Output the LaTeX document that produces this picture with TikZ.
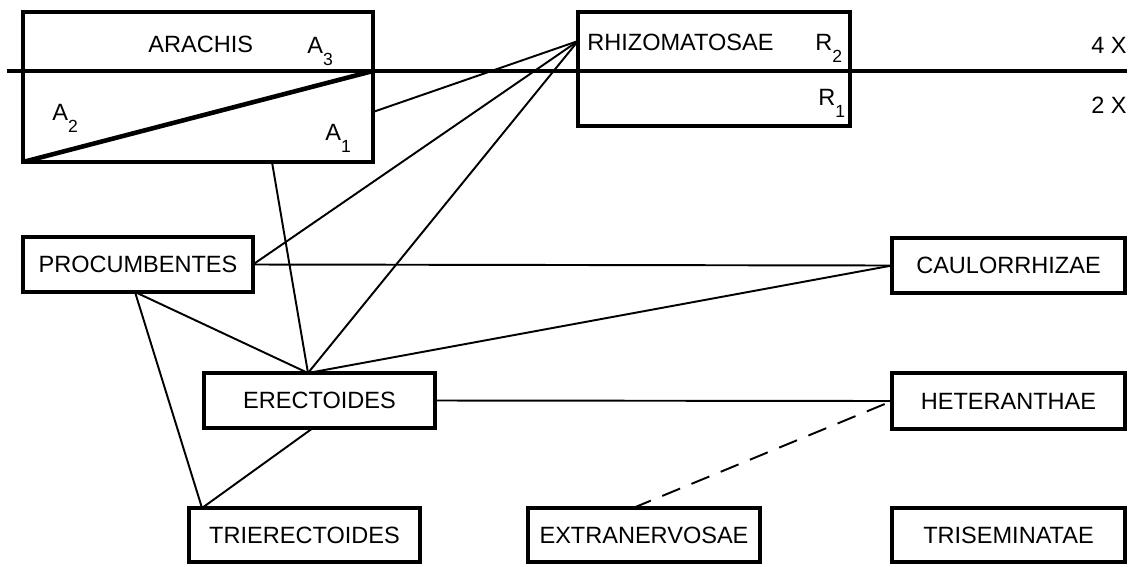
\documentclass[tikz,border=0pt]{standalone}
\usepackage{fontspec}
\setmainfont{Liberation Sans}
\newcommand\sbx[1]{\raisebox{-7pt}{\fontsize{10}{10}\selectfont #1}}
\begin{document}
\begin{tikzpicture}[x=0.02cm,y=-0.02cm,
  box/.style={draw,line width=2.3pt,rectangle,inner sep=0pt,outer sep=0pt,font=\fontsize{13.4}{15}\selectfont},
  conn/.style={line width=1.1pt},
  lbl/.style={inner sep=0pt,font=\fontsize{13.4}{15}\selectfont},
  divider/.style={line width=2.3pt},
  diag/.style={line width=2.6pt}]
\useasboundingbox (0,0) rectangle (1134,566);
% boxes
\node[box,minimum width=7cm,minimum height=3cm] (arachis) at (198,87) {};
\node[box,minimum width=5.44cm,minimum height=2.28cm] (rhizo) at (714,69) {};
\node[box,minimum width=4.6cm,minimum height=1.1cm] (proc) at (138,264.5) {PROCUMBENTES};
\node[box,minimum width=4.62cm,minimum height=1.1cm] (erect) at (319.5,400.5) {ERECTOIDES};
\node[box,minimum width=4.62cm,minimum height=1.08cm] (trier) at (304.5,535) {TRIERECTOIDES};
\node[box,minimum width=4.64cm,minimum height=1.08cm] (extra) at (644,535) {EXTRANERVOSAE};
\node[box,minimum width=4.66cm,minimum height=1.08cm] (trisem) at (1008.5,535) {TRISEMINATAE};
\node[box,minimum width=4.66cm,minimum height=1.1cm] (caul) at (1008.5,265.5) {CAULORRHIZAE};
\node[box,minimum width=4.66cm,minimum height=1.12cm] (heter) at (1008.5,401) {HETERANTHAE};
% divider and diagonal
\draw[divider] (7,71) -- (1127,71);
\draw[diag] (arachis.south west) -- (373,71);
% labels
\node[lbl,anchor=base west] (tarachis) at (148,52) {ARACHIS};
\node[lbl,anchor=base west] (ta3) at (307,53) {A\sbx{3}};
\node[lbl,anchor=base west] (ta2) at (52,120) {A\sbx{2}};
\node[lbl,anchor=base west] (ta1) at (325,140) {A\sbx{1}};
\node[lbl,anchor=base west] (trz) at (587,50) {RHIZOMATOSAE};
\node[lbl,anchor=base west] (tr2) at (815,50) {R\sbx{2}};
\node[lbl,anchor=base west] (tr1) at (818,105) {R\sbx{1}};
\node[lbl,anchor=base east] (t4x) at (1127,53) {4 X};
\node[lbl,anchor=base east] (t2x) at (1127,113) {2 X};
% connectors
\draw[conn] ([yshift=-0.5cm]arachis.east) -- ([yshift=0.56cm]rhizo.west);
\draw[conn] (proc.east) -- ([yshift=0.56cm]rhizo.west);
\draw[conn] ([xshift=-0.23cm]erect.north) -- ([yshift=0.56cm]rhizo.west);
\draw[conn] ([xshift=1.48cm]arachis.south) -- ([xshift=-0.23cm]erect.north);
\draw[conn] (proc.east) -- (caul.west);
\draw[conn] ([xshift=-0.23cm]erect.north) -- (caul.west);
\draw[conn] ([xshift=-0.06cm]proc.south) -- ([xshift=-0.23cm]erect.north);
\draw[conn] ([xshift=-0.06cm]proc.south) -- ([xshift=0.26cm]trier.north west);
\draw[conn] ([xshift=-0.13cm]erect.south) -- ([xshift=0.26cm]trier.north west);
\draw[conn] (erect.east) -- (heter.west);
\draw[conn,dash pattern=on 11pt off 7pt] ([xshift=-0.22cm]extra.north) -- (heter.west);
\end{tikzpicture}
\end{document}
